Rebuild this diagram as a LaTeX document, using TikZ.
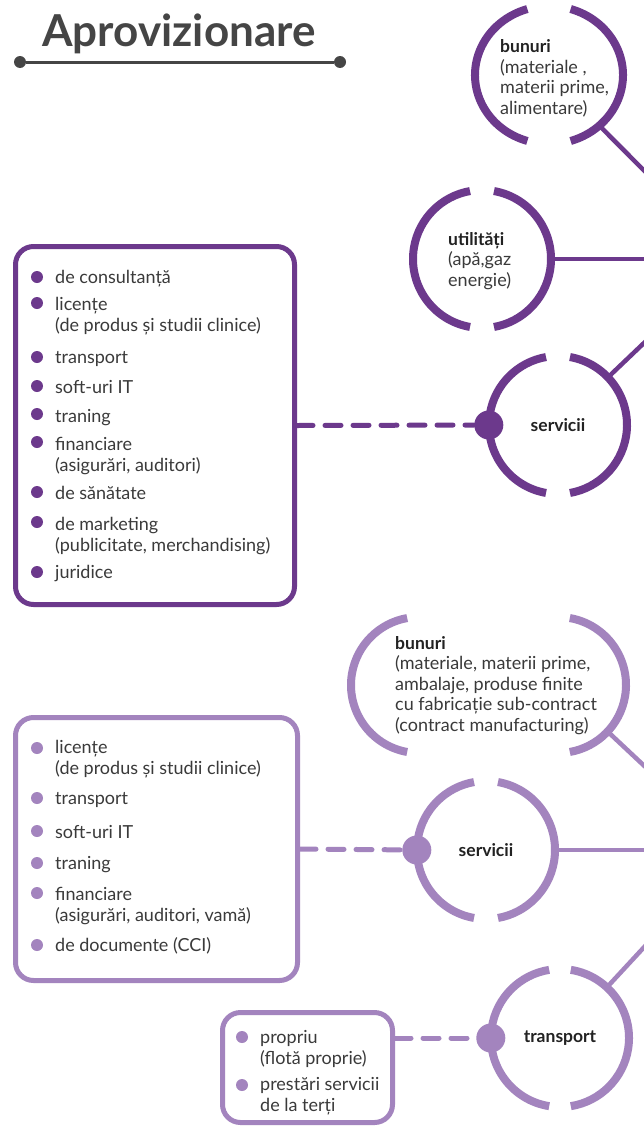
\documentclass[tikz,border=0pt]{standalone}
\usepackage{fontspec}
\setmainfont{Lato}
\usetikzlibrary{positioning,shapes.geometric}

\definecolor{purpA}{HTML}{6C398C}
\definecolor{purpB}{HTML}{A384BE}
\definecolor{itemgray}{HTML}{3A3A3A}
\definecolor{headgray}{HTML}{454545}
\definecolor{labelblack}{HTML}{222222}

% ring with a gap at top and bottom: [style] node, x radius, y radius, half gap
\newcommand{\gapring}[5][]{%
  \draw[#1] (#2.center) ++(90+#5:#3 and #4) arc[start angle=90+#5, end angle=270-#5, x radius=#3, y radius=#4];
  \draw[#1] (#2.center) ++(-90+#5:#3 and #4) arc[start angle=-90+#5, end angle=90-#5, x radius=#3, y radius=#4];}

\begin{document}
\begin{tikzpicture}
		[x=1pt,y=-1pt,
		ringA/.style={draw=purpA,line width=8pt},
		ringB/.style={draw=purpB,line width=8pt},
		ring/.style={circle,minimum size=138pt,inner sep=0pt,font=\fontsize{17.5}{20}\selectfont\bfseries,text=labelblack},
		listbox/.style={draw=#1,line width=5pt,rounded corners=18pt,inner sep=0pt},
		joint/.style={circle,fill=#1,minimum size=29pt,inner sep=0pt},
		bullet/.style={circle,fill=#1,minimum size=12pt,inner sep=0pt},
		enddot/.style={circle,fill=headgray,minimum size=12pt,inner sep=0pt},
		itemtxt/.style={font=\fontsize{18}{20.5}\selectfont,text=itemgray,inner sep=0pt,align=left,anchor=base west,yshift=-2pt},
		link/.style={draw=#1,line width=4.5pt},
		dashlink/.style={draw=#1,line width=5pt,line cap=round,dash pattern=on 16pt off 12pt}]
		\fill[white] (0,0) rectangle (644,1127);
		\clip (0,0) rectangle (644,1127);
		
		% title
		\node[font=\fontsize{44}{44}\selectfont\bfseries,text=headgray,anchor=base] (title) at (179,46) {Aprovizionare};
		\node[enddot] (tl) at (20,62) {};
		\node[enddot] (tr) at (340,62) {};
		\draw[headgray,line width=3pt] (tl) -- (tr);
		
		% first group (y of a text = baseline of its last line)
		\coordinate (hubA) at (732,259);
		\node[ellipse,minimum width=148pt,minimum height=138pt,inner sep=0pt] (bunA) at (549,75) {};
		\node[ring] (utilA) at (482,259) {};
		\node[ring] (servA) at (558,425) {servicii};
		\foreach \n in {bunA,utilA,servA}
			\draw[link=purpA] (hubA) -- (\n);
		\gapring[ringA]{bunA}{74}{69}{17}
		\gapring[ringA]{utilA}{69}{69}{10}
		\gapring[ringA]{servA}{69}{69}{10}
		\node[itemtxt] (bunAtxt) at (500,112) {{\fontsize{17.5}{20.5}\selectfont\bfseries\color{labelblack}bunuri}\\(materiale ,\\materii prime,\\alimentare)};
		\node[itemtxt] (utilAtxt) at (448,284) {{\fontsize{17.5}{20.5}\selectfont\bfseries\color{labelblack}utilități}\\(apă,gaz\\energie)};
		
		\node[listbox=purpA,minimum width=279pt,minimum height=358pt] (boxA) at (155,425.5) {};
		\foreach \by/\ty/\txt [count=\i] in {
			277/281/{de consultanță},
			303/329/{licențe\\(de produs și studii clinice)},
			357/361/{transport},
			386/391/{soft-uri IT},
			414/420/{traning},
			442/469/{financiare\\(asigurări, auditori)},
			492/497/{de sănătate},
			522/549/{de marketing\\(publicitate, merchandising)},
			572/576/{juridice}}
		{
			\node[bullet=purpA] (dA\i) at (37,\by) {};
			\node[itemtxt] (tA\i) at (55,\ty) {\txt};
		}
		\node[joint=purpA] (jA) at (servA.west) {};
		\draw[dashlink=purpA] (boxA.east) -- (jA);
		
		% second group
		\coordinate (hubB) at (734,850);
		\node[ring] (bunBl) at (419,685) {};
		\node[ring] (bunBr) at (558,685) {};
		\node[ring] (servB) at (486,850) {servicii};
		\node[ring] (transB) at (560,1038) {transport};
		\foreach \n in {bunBr,servB,transB}
			\draw[link=purpB] (hubB) -- (\n);
		\draw[ringB] (bunBl.center) ++(100:68) arc[start angle=100,end angle=260,radius=68];
		\draw[ringB] (bunBr.center) ++(-80:68) arc[start angle=-80,end angle=80,radius=68];
		\gapring[ringB]{servB}{69}{69}{10}
		\gapring[ringB]{transB}{69}{69}{9}
		\node[itemtxt] (bunBtxt) at (395,729) {{\fontsize{17.5}{20.5}\selectfont\bfseries\color{labelblack}bunuri}\\(materiale, materii prime,\\ambalaje, produse finite\\cu fabricație sub-contract\\(contract manufacturing)};
		
		\node[listbox=purpB,minimum width=282pt,minimum height=263pt] (boxB) at (156.5,849) {};
		\foreach \by/\ty/\txt [count=\i] in {
			748/772/{licențe\\(de produs și studii clinice)},
			798/802/{transport},
			831/836/{soft-uri IT},
			863/867/{traning},
			893/919/{financiare\\(asigurări, auditori, vamă)},
			945/949/{de documente (CCI)}}
		{
			\node[bullet=purpB] (dB\i) at (37,\by) {};
			\node[itemtxt] (tB\i) at (55,\ty) {\txt};
		}
		\node[joint=purpB] (jB) at (servB.west) {};
		\draw[dashlink=purpB] (boxB.east) -- (jB);
		
		\node[listbox=purpB,minimum width=170pt,minimum height=110pt] (boxC) at (307.5,1067.5) {};
		\foreach \by/\ty/\txt [count=\i] in {
			1037/1062/{propriu\\(flotă proprie)},
			1085/1109/{prestări servicii\\de la terți}}
		{
			\node[bullet=purpB] (dC\i) at (242,\by) {};
			\node[itemtxt] (tC\i) at (260,\ty) {\txt};
		}
		\node[joint=purpB] (jC) at (transB.west) {};
		\draw[dashlink=purpB] (jC -| boxC.east) -- (jC);
\end{tikzpicture}
\end{document}
